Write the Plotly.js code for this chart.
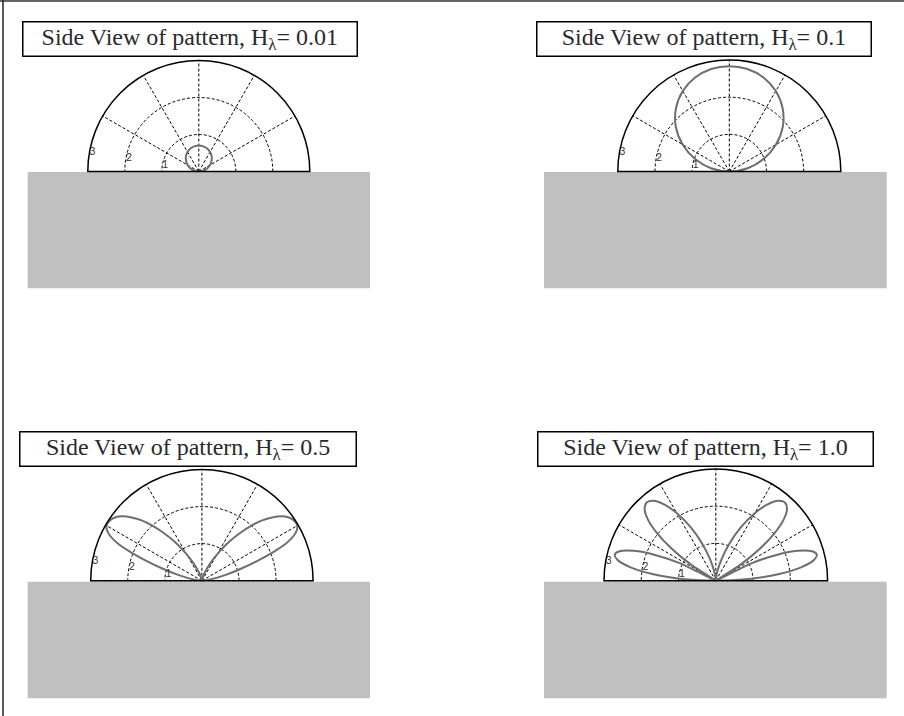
<!DOCTYPE html>
<html>
<head>
<meta charset="utf-8">
<script src="https://cdn.plot.ly/plotly-3.0.1.min.js"></script>
<style>html,body{margin:0;padding:0;background:#fff;}#chart{width:904px;height:716px;}</style>
</head>
<body>
<div id="chart"></div>
<script>
// ---- data ----
const titleLabels = ["0.01", "0.1", "0.5", "1.0"];
const ringValues = [1, 2, 3];
const ringLabels = ["1", "2", "3"];
const gridAngles = [0, 30, 60, 90, 120, 150, 180];

// H = 0.01 : small circle
const theta1 = [0, 10, 20, 30, 40, 50, 60, 70, 80, 90, 100, 110, 120, 130, 140, 150, 160, 170, 180];
const r1     = [0, 0.12, 0.24, 0.35, 0.45, 0.54, 0.61, 0.66, 0.69, 0.70, 0.69, 0.66, 0.61, 0.54, 0.45, 0.35, 0.24, 0.12, 0];

// H = 0.1 : large circle-like lobe
const theta2 = [0, 10, 20, 30, 40, 50, 60, 70, 80, 90, 100, 110, 120, 130, 140, 150, 160, 170, 180];
const r2     = [0, 0.50, 0.98, 1.45, 1.88, 2.23, 2.50, 2.69, 2.80, 2.83, 2.80, 2.69, 2.50, 2.23, 1.88, 1.45, 0.98, 0.50, 0];

// H = 0.5 : two lobes near 30 and 150 deg
const theta3 = [0, 4, 8, 11, 14, 17, 20, 22, 24, 26, 28, 30, 33, 36, 39, 42, 45, 48, 51, 55, 59, 63, 67, 72, 77, 83, 90,
                97, 103, 108, 113, 117, 121, 125, 129, 132, 135, 138, 141, 144, 147, 150, 152, 154, 156, 158, 160, 163, 166, 169, 172, 176, 180];
const r3     = [0, 0.05, 0.20, 0.40, 0.70, 1.10, 1.65, 2.10, 2.50, 2.75, 2.90, 2.97, 2.97, 2.90, 2.76, 2.55, 2.30, 2.00, 1.68, 1.28, 0.90, 0.60, 0.37, 0.18, 0.07, 0.02, 0,
                0.02, 0.07, 0.18, 0.37, 0.60, 0.90, 1.28, 1.68, 2.00, 2.30, 2.55, 2.76, 2.90, 2.97, 2.97, 2.90, 2.75, 2.50, 2.10, 1.65, 1.10, 0.70, 0.40, 0.20, 0.05, 0];

// H = 1.0 : four lobes
const theta4 = [0, 3, 6, 9, 12, 14.5, 17, 20, 23, 26, 30, 33, 36, 39, 42, 45, 48.5, 52, 56, 60, 65, 70, 75, 80, 85, 90,
                95, 100, 105, 110, 115, 120, 124, 128, 131.5, 135, 138, 141, 144, 147, 150, 154, 157, 160, 163, 165.5, 168, 171, 174, 177, 180];
const r4     = [0, 0.90, 1.71, 2.33, 2.70, 2.80, 2.70, 2.34, 1.77, 1.06, 0, 0.77, 1.47, 2.03, 2.45, 2.70, 2.80, 2.72, 2.46, 2.09, 1.57, 1.04, 0.59, 0.27, 0.07, 0,
                0.07, 0.27, 0.59, 1.04, 1.57, 2.09, 2.46, 2.72, 2.80, 2.70, 2.45, 2.03, 1.47, 0.77, 0, 1.06, 1.77, 2.34, 2.70, 2.80, 2.70, 2.33, 1.71, 0.90, 0];

const thetas = [theta1, theta2, theta3, theta4];
const radii = [r1, r2, r3, r4];

// ---- layout geometry (pixels) ----
const W = 904, H = 716;
const panels = [
  {cx: 198.8, cy: 171.5, R: 111.0, box: [22.7, 21.7, 356.7, 56], rect: [27.7, 172, 370, 288.3]},
  {cx: 729.3, cy: 171.5, R: 111.5, box: [536.3, 21.7, 870.7, 56], rect: [544, 172, 886.7, 288.3]},
  {cx: 201.9, cy: 580.7, R: 111.2, box: [19.3, 431.7, 356, 466], rect: [27.7, 581.7, 370, 698.3]},
  {cx: 715.8, cy: 580.7, R: 111.8, box: [537.3, 431.7, 872.7, 466], rect: [544, 581.7, 886.7, 698.3]}
];
const labelAngle = 170;

const px = x => x / W;
const py = y => 1 - y / H;

const data = [];
const layout = {
  width: W, height: H,
  margin: {l: 0, r: 0, t: 0, b: 0},
  paper_bgcolor: "#ffffff",
  showlegend: false,
  shapes: [],
  annotations: []
};

panels.forEach((p, i) => {
  const key = i === 0 ? "polar" : "polar" + (i + 1);
  layout[key] = {
    domain: {x: [px(p.cx - p.R), px(p.cx + p.R)], y: [py(p.cy), py(p.cy - p.R)]},
    sector: [0, 180],
    bgcolor: "rgba(0,0,0,0)",
    angularaxis: {
      rotation: 0, direction: "counterclockwise",
      tickmode: "array", tickvals: gridAngles,
      showticklabels: false, ticks: "",
      showgrid: true, gridcolor: "#000", gridwidth: 1, griddash: "3px,2px",
      showline: true, linecolor: "#000", linewidth: 1.5
    },
    radialaxis: {
      range: [0, 3], tickmode: "array", tickvals: ringValues.slice(0, 2),
      showticklabels: false, ticks: "", showline: false,
      showgrid: true, gridcolor: "#000", gridwidth: 1, griddash: "3px,2px"
    }
  };
  data.push({
    type: "scatterpolar", subplot: key, mode: "lines",
    r: radii[i], theta: thetas[i],
    line: {color: "#6e6e6e", width: 2, shape: "spline", smoothing: 0.8},
    hoverinfo: "skip"
  });
  data.push({
    type: "scatterpolar", subplot: key, mode: "text",
    r: ringValues, theta: ringValues.map(() => labelAngle),
    text: ringLabels, textposition: "middle right",
    textfont: {family: "Liberation Sans, Arial, sans-serif", size: 10.5, color: "#333333"},
    cliponaxis: false, hoverinfo: "skip"
  });
  // ground rectangle
  layout.shapes.push({
    type: "rect", xref: "paper", yref: "paper", layer: "below",
    x0: px(p.rect[0]), x1: px(p.rect[2]), y0: py(p.rect[3]), y1: py(p.rect[1]),
    fillcolor: "#c0c0c0", line: {width: 0}
  });
  // title box
  const bw = p.box[2] - p.box[0], bh = p.box[3] - p.box[1];
  layout.annotations.push({
    xref: "paper", yref: "paper",
    x: px((p.box[0] + p.box[2]) / 2), y: py((p.box[1] + p.box[3]) / 2),
    xanchor: "center", yanchor: "middle",
    width: bw - 1.5, height: bh - 1.5, borderpad: 0,
    showarrow: false,
    text: "Side View of pattern, H<sub>λ</sub>= " + titleLabels[i],
    font: {family: "Liberation Serif, Times New Roman, serif", size: 24, color: "#2a2a2a"},
    bgcolor: "#ffffff", bordercolor: "#000", borderwidth: 1.5
  });
});

// outer frame (top and left edges)
layout.shapes.push({type: "line", xref: "paper", yref: "paper", x0: 0, x1: 1, y0: py(1), y1: py(1), line: {color: "#666", width: 2}});
layout.shapes.push({type: "line", xref: "paper", yref: "paper", x0: px(3), x1: px(3), y0: 0, y1: 1, line: {color: "#222", width: 1.5}});

Plotly.newPlot("chart", data, layout, {staticPlot: true, displayModeBar: false});
</script>
</body>
</html>
